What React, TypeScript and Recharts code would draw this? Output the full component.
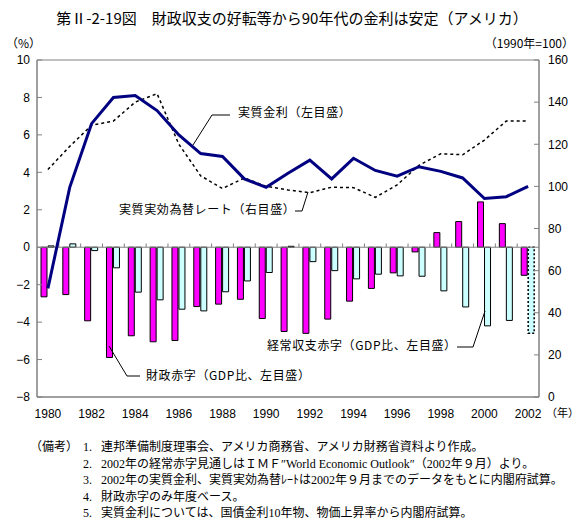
import { ComposedChart, Bar, Line, XAxis, YAxis, ReferenceLine, ReferenceArea, Cell } from "recharts";

const years = ["1980", "1981", "1982", "1983", "1984", "1985", "1986", "1987", "1988", "1989", "1990", "1991", "1992", "1993", "1994", "1995", "1996", "1997", "1998", "1999", "2000", "2001", "2002"];
// real interest rate, % (left axis)
const realRate = [-2.2, 3.2, 6.6, 8.0, 8.1, 7.3, 6.0, 5.0, 4.85, 3.65, 3.2, 3.95, 4.65, 3.65, 4.75, 4.1, 3.8, 4.3, 4.05, 3.7, 2.6, 2.7, 3.25];
// real effective exchange rate, 1990=100 (right axis)
const exchangeRate = [108, 119, 129, 131, 140, 144, 120, 105, 99, 104, 100, 98.3, 97, 99.6, 99.4, 94.8, 100.7, 110, 115.5, 115, 122, 131, 131];
// fiscal deficit, % of GDP
const fiscalDeficit = [-2.65, -2.53, -3.93, -5.89, -4.73, -5.05, -4.98, -3.17, -3.04, -2.78, -3.81, -4.5, -4.6, -3.84, -2.88, -2.2, -1.37, -0.25, 0.78, 1.37, 2.42, 1.26, -1.5];
// current account deficit, % of GDP
const currentAccount = [0.07, 0.18, -0.18, -1.1, -2.4, -2.81, -3.31, -3.4, -2.38, -1.8, -1.35, 0.05, -0.77, -1.25, -1.69, -1.44, -1.53, -1.55, -2.33, -3.19, -4.2, -3.91, -4.6];
const leftTicks = [-8, -6, -4, -2, 0, 2, 4, 6, 8, 10];
const rightTicks = [0, 20, 40, 60, 80, 100, 120, 140, 160];

const notes = [
  ["1.", "連邦準備制度理事会、アメリカ商務省、アメリカ財務省資料より作成。"],
  ["2.", "2002年の経常赤字見通しはＩＭＦ″World Economic Outlook″（2002年９月）より。"],
  ["3.", "2002年の実質金利、実質実効為替ﾚｰﾄは2002年９月までのデータをもとに内閣府試算。"],
  ["4.", "財政赤字のみ年度ベース。"],
  ["5.", "実質金利については、国債金利10年物、物価上昇率から内閣府試算。"],
];

const data = years.map((year, i) => ({
  year,
  realRate: realRate[i],
  exchangeRate: exchangeRate[i],
  fiscal: fiscalDeficit[i],
  current: currentAccount[i],
}));

const sans = "'Liberation Sans', Arial, 'Noto Sans CJK JP', sans-serif";
const jp = "'Noto Sans CJK JP', sans-serif";
const serif = "'Liberation Serif', 'Noto Sans CJK JP', serif";
const axisColor = "#808080";
const tickStyle = { fontSize: 12, fill: "#000", fontFamily: sans };
const minus = (v: number) => String(v).replace("-", "−");

function Label({ text, left, top }: { text: string; left: number; top: number }) {
  return (
    <div style={{ position: "absolute", left, top, fontSize: 12, lineHeight: "14px", letterSpacing: 0.6, fontFamily: jp, whiteSpace: "nowrap" }}>
      {text}
    </div>
  );
}

export default function App() {
  return (
    <div style={{ position: "absolute", left: 0, top: 0, width: 584, height: 531, background: "#fff" }}>
      <div style={{ position: "absolute", left: 0, top: 7, width: 584, textAlign: "center", fontSize: 15, lineHeight: "22px", fontFamily: jp }}>
        第Ⅱ-2-19図　財政収支の好転等から90年代の金利は安定（アメリカ）
      </div>
      <div style={{ position: "absolute", left: 6, top: 36, fontSize: 12, lineHeight: "14px", fontFamily: jp }}>（%）</div>
      <div style={{ position: "absolute", right: 10, top: 36, fontSize: 12, lineHeight: "14px", fontFamily: jp }}>（1990年=100）</div>

      <ComposedChart width={584} height={531} data={data} margin={{ top: 60, right: 0, bottom: 104, left: 0 }} barGap={1} barSize={6}>
        <XAxis dataKey="year" interval={1} axisLine={{ stroke: axisColor }} tickLine={false} tickSize={0} tickMargin={12} tick={tickStyle} height={30} />
        <YAxis yAxisId="left" domain={[-8, 10]} ticks={leftTicks} width={37} axisLine={{ stroke: axisColor }} tickLine={{ stroke: axisColor }} tickSize={-5} tickMargin={12} tick={tickStyle} tickFormatter={minus} />
        <YAxis yAxisId="right" orientation="right" domain={[0, 160]} ticks={rightTicks} width={45} axisLine={{ stroke: axisColor }} tickLine={{ stroke: axisColor }} tickSize={-5} tickMargin={14} tick={{ ...tickStyle, textAnchor: "start" }} />
        <ReferenceArea yAxisId="left" y1={-8} y2={10} fill="none" stroke={axisColor} />
        <ReferenceLine yAxisId="left" y={0} stroke={axisColor} />
        {years.slice(1).map((y) => (
          <ReferenceLine key={y} yAxisId="left" position="start" segment={[{ x: y, y: 0 }, { x: y, y: 0.2 }]} stroke={axisColor} />
        ))}
        <Bar yAxisId="left" dataKey="fiscal" fill="#FF00FF" stroke="#000" strokeWidth={1} isAnimationActive={false} />
        <Bar yAxisId="left" dataKey="current" fill="#CCFFFF" stroke="#000" strokeWidth={1} isAnimationActive={false}>
          {years.map((y) => (
            <Cell key={y} fill="#CCFFFF" stroke="#000" strokeWidth={y === "2002" ? 1.5 : 1} strokeDasharray={y === "2002" ? "2 2" : undefined} />
          ))}
        </Bar>
        <Line yAxisId="right" dataKey="exchangeRate" stroke="#000" strokeWidth={1.5} strokeDasharray="3 3" dot={false} isAnimationActive={false} />
        <Line yAxisId="left" dataKey="realRate" stroke="#000080" strokeWidth={3} dot={false} isAnimationActive={false} />
      </ComposedChart>

      <svg width={584} height={531} style={{ position: "absolute", left: 0, top: 0, pointerEvents: "none" }}>
        <polyline points="230,115 212,115 193,145" fill="none" stroke="#000" strokeWidth={1} />
        <polyline points="295,211 302,211 308,192" fill="none" stroke="#000" strokeWidth={1} />
        <polyline points="457,347 473,347 485,311" fill="none" stroke="#000" strokeWidth={1} />
        <polyline points="140,376 127,376 109,346" fill="none" stroke="#000" strokeWidth={1} />
      </svg>

      <Label text="実質金利（左目盛）" left={238} top={105} />
      <Label text="実質実効為替レート（右目盛）" left={119} top={202} />
      <Label text="経常収支赤字（GDP比、左目盛）" left={267} top={338} />
      <Label text="財政赤字（GDP比、左目盛）" left={146} top={368} />

      <div style={{ position: "absolute", left: 546, top: 407, fontSize: 11, lineHeight: "11px", fontFamily: jp }}>（年）</div>

      <div style={{ position: "absolute", left: 30, top: 439, fontSize: 12, lineHeight: "16.5px", fontFamily: serif }}>
        {notes.map(([num, text], i) => (
          <div key={i} style={{ display: "flex", whiteSpace: "nowrap" }}>
            <span style={{ width: 53, display: "inline-block" }}>{i === 0 ? "（備考）" : ""}</span>
            <span style={{ width: 18, display: "inline-block" }}>{num}</span>
            <span>{text}</span>
          </div>
        ))}
      </div>
    </div>
  );
}
